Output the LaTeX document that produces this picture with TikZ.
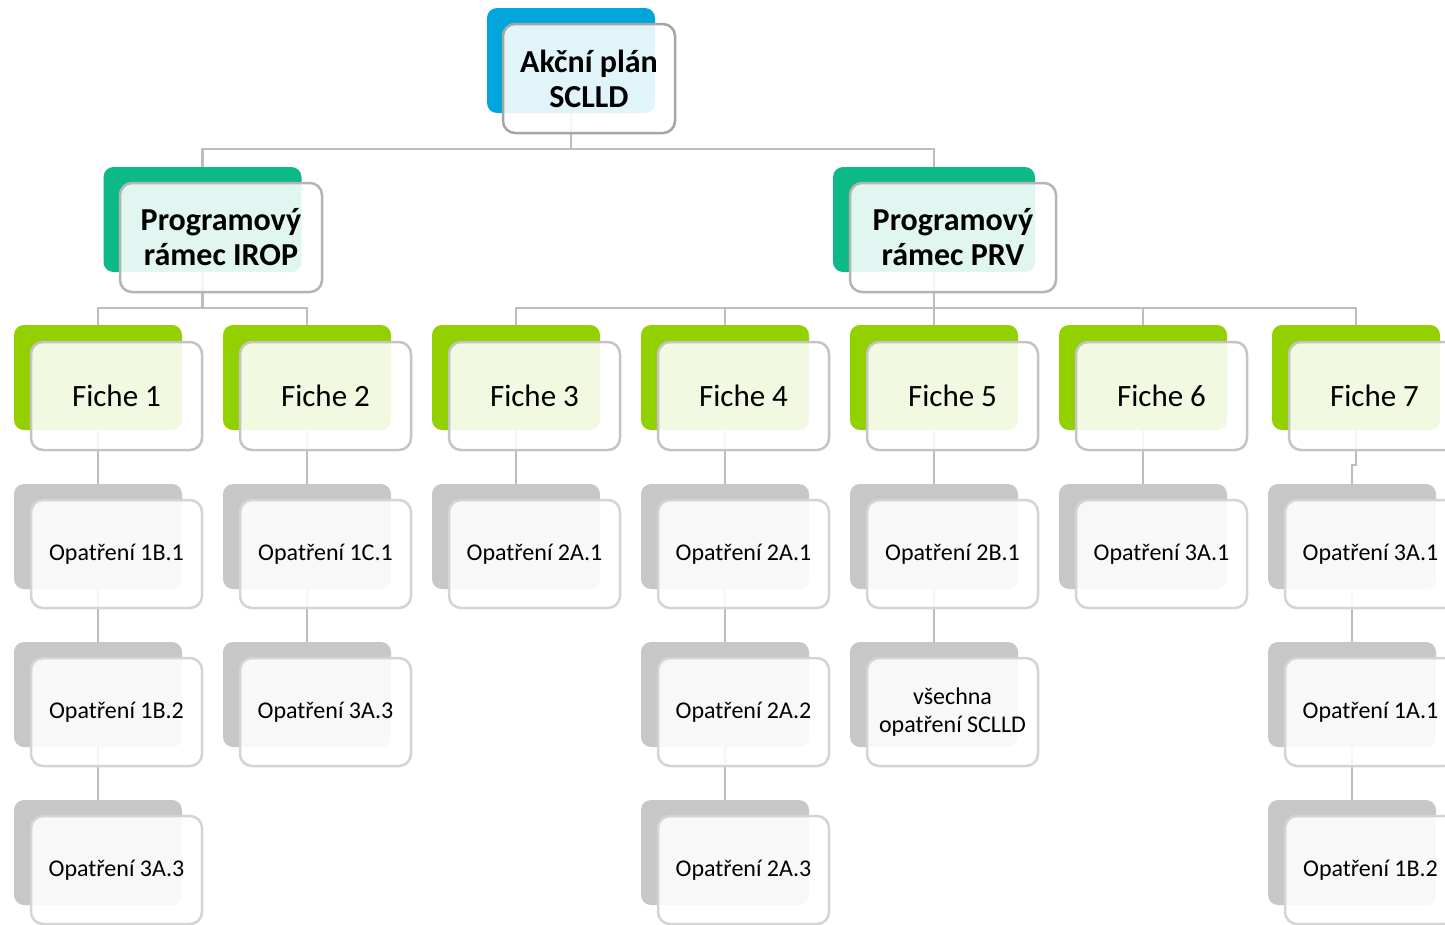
\documentclass[tikz,border=0pt]{standalone}
\usepackage{fontspec}
\setmainfont{Carlito}
\usetikzlibrary{backgrounds}
\definecolor{cblue}{HTML}{00A5DC}
\definecolor{cteal}{HTML}{0DB987}
\definecolor{clime}{HTML}{92D000}
\definecolor{cgray}{HTML}{C7C7C7}
\definecolor{btop}{HTML}{A5A5A5}
\definecolor{bmid}{HTML}{B4B4B4}
\definecolor{bfic}{HTML}{C4C4C4}
\definecolor{bopa}{HTML}{D4D4D4}
\definecolor{lgray}{HTML}{BDBDBD}
\newcommand{\opat}[4]{%
  \node[backbox,fill=cgray] (#1b) at (#2,#3) {};
  \node[frontbox,draw=bopa,font=\fontsize{24}{28}\selectfont] (#1) at ({#2+18.5},{#3+17.5}) {#4};
}
\begin{document}
\begin{tikzpicture}[x=1pt,y=-1pt,
  backbox/.style={rectangle,rounded corners=10pt,minimum width=168pt,minimum height=105pt,inner sep=0pt,draw=none},
  frontbox/.style={rectangle,rounded corners=12pt,fill=white,fill opacity=0.88,text opacity=1,line width=2.5pt,minimum width=171pt,minimum height=108pt,inner sep=0pt,align=center},
  conn/.style={draw=lgray,line width=2.5pt}]
\useasboundingbox (0,0) rectangle (1445,924);
\clip (0,0) rectangle (1445,924);
\coordinate (bar1) at (0,149);
\coordinate (bar2) at (0,308);
% top
\node[backbox,fill=cblue] (apb) at (571,60.5) {};
\node[frontbox,draw=btop,minimum width=172pt,minimum height=109pt,font=\bfseries\fontsize{32}{35}\selectfont] (ap) at (589,78.5) {Akční plán\\SCLLD};
% level 2
\node[backbox,fill=cteal,minimum width=198pt] (irb) at (202.5,219.5) {};
\node[frontbox,draw=bmid,minimum width=202pt,minimum height=109pt,font=\bfseries\fontsize{32}{35}\selectfont] (ir) at (221,237.5) {Programový\\rámec IROP};
\node[backbox,fill=cteal,minimum width=202pt] (prb) at (934,219.5) {};
\node[frontbox,draw=bmid,minimum width=206pt,minimum height=109pt,font=\bfseries\fontsize{32}{35}\selectfont] (pr) at (953,237.5) {Programový\\rámec PRV};
% fiche
\foreach \i/\x in {1/98,2/307,3/516,4/725,5/934,6/1143,7/1356}{
  \node[backbox,fill=clime] (f\i b) at (\x,377.5) {};
  \node[frontbox,draw=bfic,font=\fontsize{31}{35}\selectfont] (f\i) at ({\x+18.5},396) {Fiche \i};
}
% opatreni
\opat{oa1}{98}{536.5}{Opatření 1B.1}
\opat{oa2}{98}{694.5}{Opatření 1B.2}
\opat{oa3}{98}{852.5}{Opatření 3A.3}
\opat{ob1}{307}{536.5}{Opatření 1C.1}
\opat{ob2}{307}{694.5}{Opatření 3A.3}
\opat{oc1}{516}{536.5}{Opatření 2A.1}
\opat{od1}{725}{536.5}{Opatření 2A.1}
\opat{od2}{725}{694.5}{Opatření 2A.2}
\opat{od3}{725}{852.5}{Opatření 2A.3}
\opat{oe1}{934}{536.5}{Opatření 2B.1}
\opat{oe2}{934}{694.5}{všechna\\opatření SCLLD}
\opat{of1}{1143}{536.5}{Opatření 3A.1}
\opat{og1}{1352}{536.5}{Opatření 3A.1}
\opat{og2}{1352}{694.5}{Opatření 1A.1}
\opat{og3}{1352}{852.5}{Opatření 1B.2}
% connectors
\begin{pgfonlayer}{background}
\draw[conn] (apb.south) -- (apb.south |- bar1) -| (irb.north);
\draw[conn] (apb.south) -- (apb.south |- bar1) -| (prb.north);
\foreach \c in {f1b,f2b}{
  \draw[conn] (irb.south) -- (irb.south |- bar2) -| (\c.north);
}
\foreach \c in {f3b,f4b,f5b,f6b,f7b}{
  \draw[conn] (prb.south) -- (prb.south |- bar2) -| (\c.north);
}
\draw[conn] (f1b.south) -- (oa1b.north);
\draw[conn] (oa1b.south) -- (oa2b.north);
\draw[conn] (oa2b.south) -- (oa3b.north);
\draw[conn] (f2b.south) -- (ob1b.north);
\draw[conn] (ob1b.south) -- (ob2b.north);
\draw[conn] (f3b.south) -- (oc1b.north);
\draw[conn] (f4b.south) -- (od1b.north);
\draw[conn] (od1b.south) -- (od2b.north);
\draw[conn] (od2b.south) -- (od3b.north);
\draw[conn] (f5b.south) -- (oe1b.north);
\draw[conn] (oe1b.south) -- (oe2b.north);
\draw[conn] (f6b.south) -- (of1b.north);
\draw[conn] (f7b.south) -- ++(0,35) -| (og1b.north);
\draw[conn] (og1b.south) -- (og2b.north);
\draw[conn] (og2b.south) -- (og3b.north);
\end{pgfonlayer}
\end{tikzpicture}
\end{document}
